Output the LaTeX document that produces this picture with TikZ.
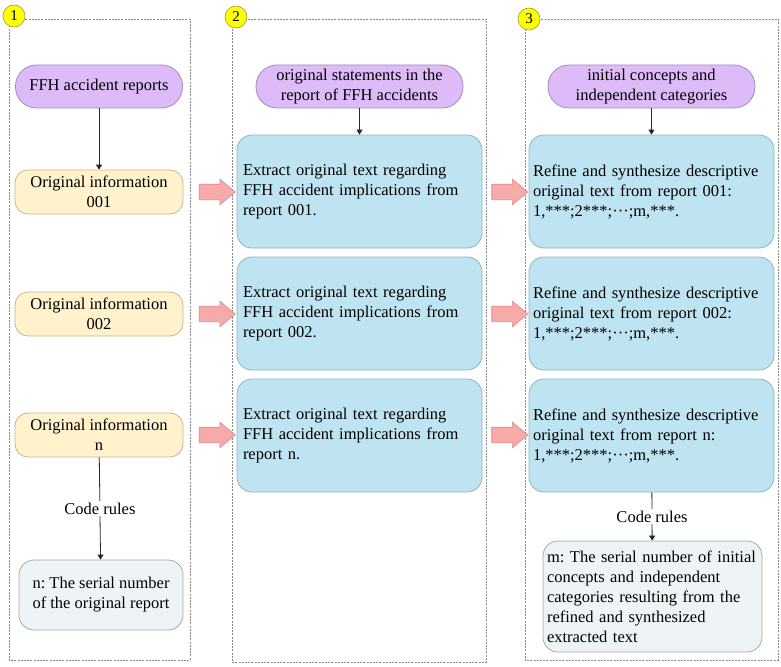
\documentclass[tikz,border=0pt]{standalone}
\usepackage{fontspec}
\setmainfont{Liberation Serif}
\usetikzlibrary{shapes.arrows,arrows.meta}
\definecolor{purpleF}{HTML}{DDBBF8}
\definecolor{purpleD}{HTML}{A58AC0}
\definecolor{yellowF}{HTML}{FFF2CC}
\definecolor{yellowD}{HTML}{C4B78F}
\definecolor{blueF}{HTML}{BFE4F1}
\definecolor{blueD}{HTML}{8EB3C2}
\definecolor{grayF}{HTML}{EEF4F6}
\definecolor{grayD}{HTML}{A2A9AC}
\definecolor{pinkF}{HTML}{F7AAAA}
\definecolor{pinkD}{HTML}{E38C8C}
\definecolor{numF}{HTML}{FFFF00}
\definecolor{numD}{HTML}{9C9C30}
\definecolor{panelD}{HTML}{8A8A8A}
\begin{document}
\frenchspacing
\begin{tikzpicture}[x=1pt,y=-1pt,
  txt/.style={font=\fontsize{16.5}{20}\selectfont\frenchspacing, text=black},
  pill/.style={txt, draw=purpleD, fill=purpleF, line width=0.8pt, rounded corners=21pt,
    minimum width=207pt, minimum height=43pt, align=center, inner sep=2pt},
  ybox/.style={txt, draw=yellowD, fill=yellowF, line width=0.8pt, rounded corners=13pt,
    minimum width=168pt, minimum height=44pt, align=center, inner sep=2pt},
  bbox/.style={txt, draw=blueD, fill=blueF, line width=0.8pt, rounded corners=15pt,
    minimum height=113pt, align=left},
  gbox/.style={txt, draw=grayD, fill=grayF, line width=0.8pt, rounded corners=15pt, align=left},
  panel/.style={draw=panelD, line width=0.6pt, dash pattern=on 2pt off 1.2pt},
  numc/.style={circle, draw=numD, fill=numF, line width=0.6pt, minimum size=22pt, inner sep=0pt,
    font=\fontsize{15}{16}\selectfont},
  conn/.style={draw=black!85, line width=0.8pt, -{Triangle[length=5pt,width=6pt]}},
  lab/.style={txt, fill=white, inner sep=2pt},
  parrow/.style={single arrow, draw=pinkD, fill=pinkF, line width=0.7pt,
    minimum height=36pt, minimum width=25pt, inner xsep=0pt, inner ysep=7.5pt,
    single arrow head extend=5pt, single arrow tip angle=80}
]
\useasboundingbox (0,0) rectangle (781,666);
\fill[white] (0,0) rectangle (781,666);

% panels
\draw[panel] (9,19) rectangle (190,660);
\draw[panel] (232,19) rectangle (486,662);
\draw[panel] (525,19) rectangle (778,660);

\node[numc] (c1) at (14,16) {1};
\node[numc] (c2) at (236,17) {2};
\node[numc] (c3) at (529,19) {3};

% column 1
\node[pill, minimum width=167pt] (rep) at (99,86.5) {FFH accident reports};
\node[ybox] (o1) at (99,192) {Original information\\001};
\node[ybox] (o2) at (99,314) {Original information\\002};
\node[ybox] (on) at (99,435) {Original information\\n};
\node[gbox, align=center, minimum width=164pt, minimum height=70pt, inner sep=2pt] (nb) at (101,595)
  {n: The serial number\\of the original report};

\draw[conn] (rep) -- (o1);
\draw[conn] (on) -- node[lab] {Code rules} (nb);

% column 2
\node[pill] (st) at (359.5,86.5) {original statements in the\\report of FFH accidents};
\node[bbox, inner xsep=6pt, text width=233pt] (e1) at (359.5,191.5)
  {Extract original text regarding\\FFH accident implications from\\report 001.};
\node[bbox, inner xsep=6pt, text width=233pt] (e2) at (359.5,313.5)
  {Extract original text regarding\\FFH accident implications from\\report 002.};
\node[bbox, inner xsep=6pt, text width=233pt] (e3) at (359.5,435.5)
  {Extract original text regarding\\FFH accident implications from\\report n.};
\draw[conn] (st) -- (e1);

% column 3
\node[pill] (ic) at (651.5,86.5) {initial concepts and\\independent categories};
\node[bbox, inner xsep=4pt, text width=237pt] (r1) at (651.5,191.5)
  {Refine and synthesize descriptive\\original text from report 001:\\1,***;2***;···;m,***.};
\node[bbox, inner xsep=4pt, text width=237pt] (r2) at (651.5,313.5)
  {Refine and synthesize descriptive\\original text from report 002:\\1,***;2***;···;m,***.};
\node[bbox, inner xsep=4pt, text width=237pt] (r3) at (651.5,435.5)
  {Refine and synthesize descriptive\\original text from report n:\\1,***;2***;···;m,***.};
\node[gbox, inner xsep=4pt, text width=211pt, minimum height=111pt] (mb) at (652.5,596.5)
  {m: The serial number of initial\\concepts and independent\\categories resulting from the\\refined and synthesized\\extracted text};
\draw[conn] (ic) -- (r1);
\draw[conn] (r3) -- node[lab] {Code rules} (mb);

% block arrows
\node[parrow] (a1) at (212.5,192) {};
\node[parrow] (a2) at (212.5,314) {};
\node[parrow] (a3) at (212.5,435) {};
\node[parrow] (b1) at (505,192) {};
\node[parrow] (b2) at (505,314) {};
\node[parrow] (b3) at (505,435) {};
\end{tikzpicture}
\end{document}
